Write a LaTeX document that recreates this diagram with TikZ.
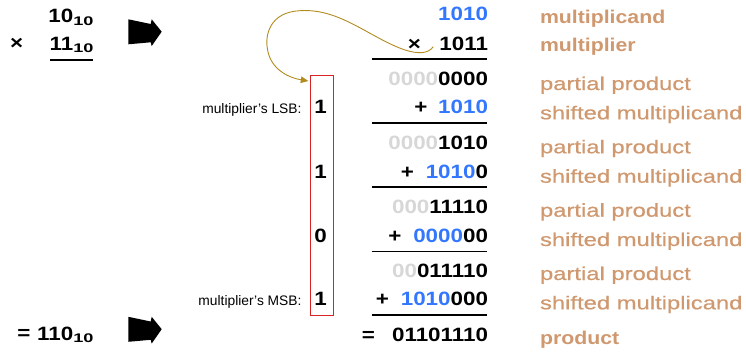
\documentclass[tikz,border=0pt]{standalone}
\usepackage{fontspec}
\setmainfont{Liberation Sans}
\newfontfamily\digf[FakeStretch=1.16]{Liberation Sans}
\newfontfamily\subf[FakeStretch=1.45]{Liberation Sans}
\newfontfamily\labf[FakeStretch=1.28,FakeBold=0.5]{Liberation Sans}
\newfontfamily\labbf[FakeStretch=1.15]{Liberation Sans}
\usetikzlibrary{arrows.meta}
\definecolor{blu}{RGB}{51,119,255}
\definecolor{gry}{RGB}{215,215,215}
\definecolor{labcol}{RGB}{207,152,110}
\definecolor{olv}{RGB}{176,140,30}
\definecolor{boxred}{RGB}{215,35,35}
\newcommand{\sbx}[1]{\raisebox{-2.3pt}{\subf\bfseries\fontsize{12.5}{13}\selectfont #1}}
\begin{document}
\begin{tikzpicture}[x=1pt,y=-1pt,
  every node/.style={inner sep=0pt,outer sep=0pt},
  num/.style={anchor=base east,font=\digf\bfseries\fontsize{19.3}{20}\selectfont},
  sign/.style={anchor=base,font=\digf\bfseries\fontsize{19.3}{20}\selectfont},
  lbl/.style={anchor=base west,text=labcol,font=\labf\fontsize{18.6}{20}\selectfont},
  lblb/.style={anchor=base west,text=labcol,font=\labbf\bfseries\fontsize{18.5}{20}\selectfont},
  small/.style={anchor=base east,font=\fontsize{13.8}{15}\selectfont},
  rulel/.style={line width=1.8pt},
  blockarrow/.style={fill=black}]
\useasboundingbox (0,0) rectangle (746,351);

% left column
\node[num] (a) at (93.5,22.7) {10\sbx{10}};
\node[num] (b) at (93.5,50) {11\sbx{10}};
\node[sign] (bx) at (16.7,49.8) {×};
\draw[rulel] (50,60.3) -- (93,60.3);
\node[sign] (leq) at (23.8,339) {=};
\node[num] (c) at (93.5,340) {110\sbx{10}};

% block arrows
\fill[blockarrow] (128.3,19.3) -- (150.7,24) -- (151.7,19.3) -- (161.7,31.7) -- (151.7,46) -- (150.7,42.3) -- (128.3,44.3) -- cycle;
\fill[blockarrow] (128.3,316.8) -- (150.7,321.5) -- (151.7,316.8) -- (161.7,329.2) -- (151.7,343.5) -- (150.7,339.8) -- (128.3,341.8) -- cycle;

% right column
\node[num] (n1) at (488,20.7) {\color{blu}1010};
\node[num] (n2) at (488,50) {1011};
\node[sign] (tx) at (414.3,50) {×};
\draw[rulel] (371.7,59) -- (486.7,59);
\node[num] (p1) at (488,85) {\color{gry}0000\color{black}0000};
\node[num] (s1) at (488,113.7) {\color{blu}1010};
\node[sign] (pl1) at (420.8,113.7) {+};
\draw[rulel] (371.7,123) -- (486.7,123);
\node[num] (p2) at (488,149) {\color{gry}0000\color{black}1010};
\node[num] (s2) at (488,178) {\color{blu}1010\color{black}0};
\node[sign] (pl2) at (407.5,178) {+};
\draw[rulel] (371.7,187) -- (486.7,187);
\node[num] (p3) at (488,213) {\color{gry}000\color{black}11110};
\node[num] (s3) at (488,242) {\color{blu}0000\color{black}00};
\node[sign] (pl3) at (395,242) {+};
\draw[rulel] (371.7,251.5) -- (486.7,251.5);
\node[num] (p4) at (488,277) {\color{gry}00\color{black}011110};
\node[num] (s4) at (488,305.5) {\color{blu}1010\color{black}000};
\node[sign] (pl4) at (382.5,305.5) {+};
\draw[rulel] (371.7,314.8) -- (486.7,314.8);
\node[num] (res) at (488,341.7) {01101110};
\node[sign] (eq) at (368.3,341.7) {=};

% multiplier bits box
\node[draw=boxred,line width=0.9pt,minimum width=22.6pt,minimum height=239.3pt] (mbox) at (322,195.35) {};
\node[sign] (m1) at (320.5,113.7) {1};
\node[sign] (m2) at (320.5,178) {1};
\node[sign] (m3) at (320.5,242) {0};
\node[sign] (m4) at (320.5,305.5) {1};
\node[small] (lsb) at (301.5,113.7) {multiplier’s LSB:};
\node[small] (msb) at (301.5,305.5) {multiplier’s MSB:};

% curved arrow
\coordinate (cs) at (433.3,46.7);
\coordinate (ce) at ([xshift=-2.4pt,yshift=-5.3pt]mbox.north west);
\draw[olv,line width=0.9pt,-{Triangle[length=7.5pt,width=6.5pt]}]
  (cs) .. controls (428,54) and (418,54) .. (405,50)
       .. controls (370,38) and (340,8) .. (300,10.7)
       .. controls (270,12) and (265,35) .. (267.3,48)
       .. controls (270,70) and (290,78) .. (ce);

% labels
\node[lblb] (l1) at (540,23.3) {multiplicand};
\node[lblb] (l2) at (540,51.6) {multiplier};
\node[lbl] (l3) at (540,90) {partial product};
\node[lbl] (l4) at (540,119.3) {shifted multiplicand};
\node[lbl] (l5) at (540,153.3) {partial product};
\node[lbl] (l6) at (540,182.7) {shifted multiplicand};
\node[lbl] (l7) at (540,216.7) {partial product};
\node[lbl] (l8) at (540,246) {shifted multiplicand};
\node[lbl] (l9) at (540,280) {partial product};
\node[lbl] (l10) at (540,309.3) {shifted multiplicand};
\node[lblb] (l11) at (540,344) {product};
\end{tikzpicture}
\end{document}
